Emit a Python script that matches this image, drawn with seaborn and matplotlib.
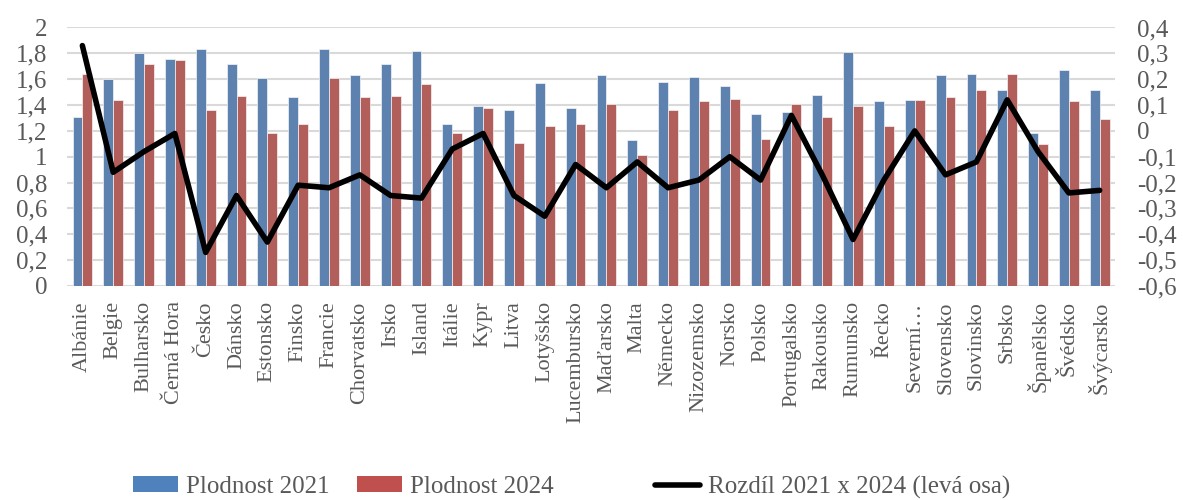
import numpy as np
import pandas as pd
import seaborn as sns
import matplotlib
matplotlib.use("Agg")
import matplotlib.pyplot as plt
from matplotlib.patches import Patch
from matplotlib.lines import Line2D
from matplotlib.ticker import FuncFormatter, MultipleLocator

countries = ["Albánie", "Belgie", "Bulharsko", "Černá Hora", "Česko", "Dánsko", "Estonsko",
             "Finsko", "Francie", "Chorvatsko", "Irsko", "Island", "Itálie", "Kypr", "Litva",
             "Lotyšsko", "Lucembursko", "Maďarsko", "Malta", "Německo", "Nizozemsko", "Norsko",
             "Polsko", "Portugalsko", "Rakousko", "Rumunsko", "Řecko", "Severní…", "Slovensko",
             "Slovinsko", "Srbsko", "Španělsko", "Švédsko", "Švýcarsko"]
fert_2021 = [1.31, 1.60, 1.80, 1.76, 1.83, 1.72, 1.61, 1.46, 1.83, 1.63, 1.72, 1.82, 1.25, 1.39,
             1.36, 1.57, 1.38, 1.63, 1.13, 1.58, 1.62, 1.55, 1.33, 1.35, 1.48, 1.81, 1.43, 1.44,
             1.63, 1.64, 1.52, 1.18, 1.67, 1.52]
fert_2024 = [1.64, 1.44, 1.72, 1.75, 1.36, 1.47, 1.18, 1.25, 1.61, 1.46, 1.47, 1.56, 1.18, 1.38,
             1.11, 1.24, 1.25, 1.41, 1.01, 1.36, 1.43, 1.45, 1.14, 1.41, 1.31, 1.39, 1.24, 1.44,
             1.46, 1.52, 1.64, 1.10, 1.43, 1.29]
diff = [0.33, -0.16, -0.08, -0.01, -0.47, -0.25, -0.43, -0.21, -0.22, -0.17, -0.25, -0.26,
        -0.07, -0.01, -0.25, -0.33, -0.13, -0.22, -0.12, -0.22, -0.19, -0.10, -0.19, 0.06,
        -0.17, -0.42, -0.19, 0.00, -0.17, -0.12, 0.12, -0.08, -0.24, -0.23]
series_names = ["Plodnost 2021", "Plodnost 2024", "Rozdíl 2021 x 2024 (levá osa)"]

BLUE = "#4F81BD"
RED = "#C0504D"
GREY = "#595959"
FONT = "Liberation Serif"

sns.set_theme(style="white")
plt.rcParams["font.family"] = [FONT, "DejaVu Serif"]

df = pd.DataFrame({
    "country": countries * 2,
    "value": fert_2021 + fert_2024,
    "series": [series_names[0]] * len(countries) + [series_names[1]] * len(countries),
})

fig = plt.figure(figsize=(11.83, 5.0), dpi=100)
ax = fig.add_axes([0.0566, 0.428, 0.886, 0.517])

sns.barplot(data=df, x="country", y="value", hue="series", palette=[BLUE, RED],
            width=0.64, ax=ax, legend=False, edgecolor="#f4f4f4", linewidth=0.5)

ax.set_ylim(0, 2)
ax.yaxis.set_major_locator(MultipleLocator(0.2))


def fmt_l(v, p):
    r = round(v, 1)
    if abs(r - round(r)) < 1e-9:
        return str(int(round(r)))
    return f"{r:.1f}".replace(".", ",")


ax.yaxis.set_major_formatter(FuncFormatter(fmt_l))
ax.grid(axis="y", color="#D9D9D9", linewidth=1.5)
ax.set_axisbelow(True)
for s in ax.spines.values():
    s.set_visible(False)
ax.set_xlabel("")
ax.set_ylabel("")
ax.tick_params(axis="both", length=0, labelcolor=GREY)
ax.tick_params(axis="y", pad=14, labelsize=18)
ax.tick_params(axis="x", pad=11, labelsize=16)

ax2 = ax.twinx()
sns.pointplot(x=countries, y=diff, ax=ax2, color="black", markers="", linewidth=4.0)
ax2.set_ylim(-0.6, 0.4)
ax2.yaxis.set_major_locator(MultipleLocator(0.1))


def fmt_r(v, p):
    r = round(v, 1)
    if abs(r) < 1e-9:
        return "0"
    return f"{r:.1f}".replace(".", ",")


ax2.yaxis.set_major_formatter(FuncFormatter(fmt_r))
for s in ax2.spines.values():
    s.set_visible(False)
ax2.tick_params(axis="y", length=0, labelsize=18, labelcolor=GREY, pad=16)
ax2.set_ylabel("")
ax2.grid(False)

ax.set_xlim(-0.5, len(countries) - 0.5)
ax.set_xticks(range(len(countries)))
ax.set_xticklabels(countries, rotation=90, fontsize=16, color=GREY)

handles = [Patch(facecolor=BLUE, edgecolor="none"), Patch(facecolor=RED, edgecolor="none"),
           Line2D([0], [0], color="black", linewidth=4.0)]
legend_x = [0.1124, 0.3018, 0.5537]
for h, name, lx in zip(handles, series_names, legend_x):
    fig.legend([h], [name], loc="center left", bbox_to_anchor=(lx, 0.026),
               frameon=False, fontsize=18, handlelength=1.8, handleheight=0.6,
               handletextpad=0.32, labelcolor=GREY, borderpad=0, borderaxespad=0)

fig.savefig("out.png", dpi=100)
